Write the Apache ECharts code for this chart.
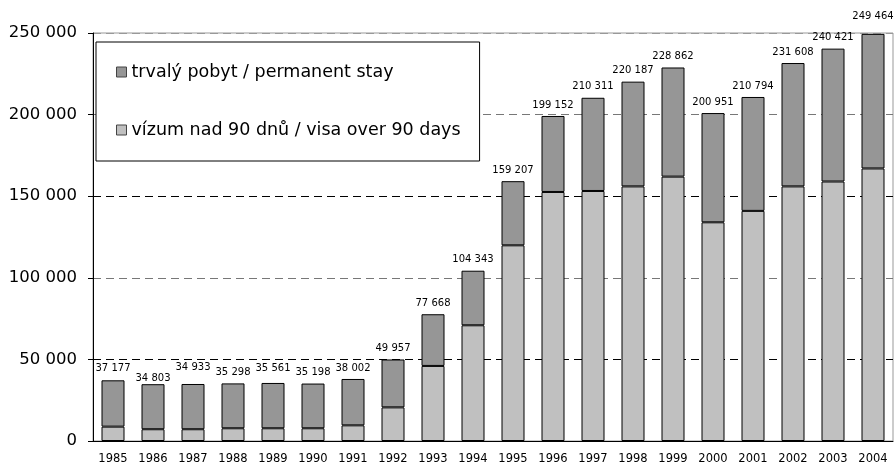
<!DOCTYPE html>
<html>
<head>
<meta charset="utf-8">
<script src="https://cdn.jsdelivr.net/npm/echarts@6/dist/echarts.min.js"></script>
<style>
    html, body { margin: 0; padding: 0; background: #fff; }
    #chart { width: 896px; height: 465px; }
</style>
</head>
<body>
<div id="chart"></div>
<script>
    // 数据
    var years = ['1985', '1986', '1987', '1988', '1989', '1990', '1991', '1992', '1993', '1994',
        '1995', '1996', '1997', '1998', '1999', '2000', '2001', '2002', '2003', '2004'];
    var visa = [8800, 7200, 7200, 7800, 7800, 7800, 9600, 20600, 46000, 70900,
        119900, 152600, 153200, 156000, 162000, 134000, 141000, 156000, 159000, 167000];
    var permanent = [28377, 27603, 27733, 27498, 27761, 27398, 28402, 29357, 31668, 33443,
        39307, 46552, 57111, 64187, 66862, 66951, 69794, 75608, 81421, 82464];
    var totals = [37177, 34803, 34933, 35298, 35561, 35198, 38002, 49957, 77668, 104343,
        159207, 199152, 210311, 220187, 228862, 200951, 210794, 231608, 240421, 249464];
    var yTicks = [0, 50000, 100000, 150000, 200000, 250000];
    // 标签的上下偏移（像素）
    var labelShift = [-1, 5, -6, 0, -4, 0, 0, 0, 0, 0, 0, 0, 0, 0, 0, 0, 0, 0, 0, -6];

    var font = 'DejaVu Sans';
    var fmt = function (v) {
        return String(v).replace(/\B(?=(\d{3})+(?!\d))/g, ' ');
    };

    var topData = permanent.map(function (v, i) {
        return { value: v, label: { offset: [0, labelShift[i]] } };
    });

    var myChart = echarts.init(document.getElementById('chart'));
    var option = {
        animation: false,
        textStyle: { fontFamily: font },
        grid: {
            left: 93, right: 3, top: 33, bottom: 24,
            show: true, borderColor: '#999', borderWidth: 1
        },
        legend: {
            left: 96, top: 42,
            orient: 'vertical',
            padding: [21, 19, 22, 20],
            itemGap: 40,
            itemWidth: 10, itemHeight: 10,
            icon: 'rect',
            backgroundColor: '#fff',
            borderColor: '#000', borderWidth: 1,
            itemStyle: { borderWidth: 1, borderColor: '#444' },
            textStyle: { fontFamily: font, fontSize: 17.5, color: '#000' },
            data: ['trvalý pobyt / permanent stay', 'vízum nad 90 dnů / visa over 90 days']
        },
        xAxis: {
            type: 'category',
            data: years,
            axisLine: { lineStyle: { color: '#000' } },
            axisTick: { length: 4, lineStyle: { color: '#000' } },
            axisLabel: { fontFamily: font, fontSize: 11.5, color: '#000', margin: 12 }
        },
        yAxis: {
            type: 'value',
            min: 0, max: 250000, interval: 50000,
            axisLine: { show: true, lineStyle: { color: '#000' } },
            axisTick: { show: true, length: 5, lineStyle: { color: '#000' } },
            axisLabel: {
                fontFamily: font, fontSize: 16.5, color: '#000', margin: 16,
                formatter: function (v) { return yTicks.indexOf(v) >= 0 ? fmt(v) : ''; }
            },
            splitLine: {
                lineStyle: {
                    type: [8, 5],
                    color: ['#000', '#000', '#777', '#000', '#777', '#999']
                }
            }
        },
        series: [
            {
                name: 'vízum nad 90 dnů / visa over 90 days',
                type: 'bar',
                stack: 'all',
                barWidth: 23,
                itemStyle: { color: '#c0c0c0', borderColor: '#000', borderWidth: 1 },
                data: visa
            },
            {
                name: 'trvalý pobyt / permanent stay',
                type: 'bar',
                stack: 'all',
                barWidth: 23,
                itemStyle: { color: '#969696', borderColor: '#000', borderWidth: 1 },
                label: {
                    show: true,
                    position: 'top',
                    distance: 6,
                    fontFamily: font,
                    fontSize: 10,
                    color: '#000',
                    formatter: function (p) { return fmt(totals[p.dataIndex]); }
                },
                data: topData
            }
        ]
    };
    myChart.setOption(option);
</script>
</body>
</html>
